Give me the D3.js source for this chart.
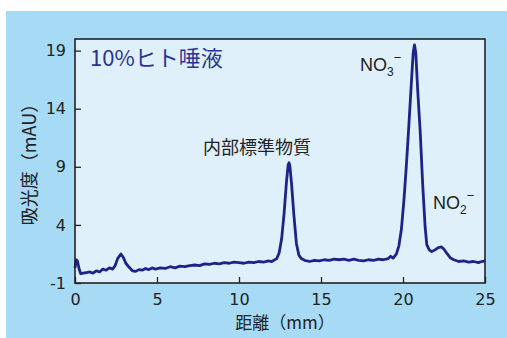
<!DOCTYPE html>
<html>
<head>
<meta charset="utf-8">
<script src="https://cdn.jsdelivr.net/npm/d3@7"></script>
<style>
  body { margin: 0; background: #fff; }
  text { font-family: "Noto Sans CJK JP", "Noto Sans", sans-serif; fill: #222; }
  .num { font-family: "DejaVu Sans", sans-serif; }
</style>
</head>
<body>
<div id="chart"></div>
<script>
// distance (mm) and absorbance (mAU)
const distance = [
  0.0, 0.08, 0.15, 0.25, 0.35, 0.5, 0.7, 0.9, 1.1, 1.3, 1.5, 1.7, 1.9, 2.1, 2.3, 2.45, 2.6, 2.8, 2.95,
  3.1, 3.3, 3.5, 3.7, 3.9, 4.1, 4.3, 4.5, 4.7, 4.9, 5.2, 5.5, 5.8, 6.1, 6.4, 6.7, 7.0, 7.3, 7.6, 7.9,
  8.2, 8.5, 8.8, 9.1, 9.4, 9.7, 10.0, 10.3, 10.6, 10.9, 11.2, 11.5, 11.8, 12.0, 12.3, 12.45, 12.6,
  12.75, 12.9, 13.0, 13.05, 13.1, 13.2, 13.35, 13.5, 13.65, 13.8, 14.0, 14.3, 14.6, 14.9, 15.2, 15.5,
  15.8, 16.1, 16.4, 16.7, 17.0, 17.3, 17.6, 17.9, 18.2, 18.5, 18.8, 19.1, 19.25, 19.4, 19.6, 19.75,
  19.9, 20.05, 20.2, 20.35, 20.5, 20.62, 20.7, 20.78, 20.9, 21.05, 21.2, 21.35, 21.45, 21.6, 21.75,
  21.95, 22.15, 22.35, 22.5, 22.7, 22.9, 23.1, 23.4, 23.7, 24.0, 24.3, 24.6, 24.8, 25.0
];
const absorbance = [
  0.3, 1.0, 0.9, 0.2, -0.2, -0.15, -0.1, -0.05, -0.15, 0.05, -0.05, 0.2, 0.1, 0.3, 0.2, 0.5, 1.1, 1.5, 1.2,
  0.7, 0.35, 0.05, 0.0, 0.15, 0.1, 0.25, 0.15, 0.3, 0.2, 0.3, 0.25, 0.4, 0.3, 0.45, 0.4, 0.5, 0.55, 0.5, 0.65,
  0.6, 0.7, 0.65, 0.75, 0.7, 0.8, 0.75, 0.7, 0.8, 0.75, 0.85, 0.8, 0.9, 0.85, 1.1, 1.6, 2.8,
  5.0, 7.8, 9.2, 9.35, 9.1, 7.6, 4.8, 2.4, 1.4, 1.1, 0.95, 0.85, 0.95, 0.9, 1.0, 0.95,
  1.05, 1.0, 1.05, 0.95, 1.05, 0.95, 0.9, 1.0, 0.95, 1.05, 1.0, 1.1, 1.3, 1.15, 1.5, 2.2,
  3.6, 6.0, 9.0, 12.4, 16.0, 18.8, 19.5, 18.8, 15.5, 12.0, 7.5, 3.8, 2.3, 1.85, 1.7,
  1.85, 2.05, 2.1, 1.9, 1.5, 1.15, 1.0, 0.85, 0.9, 0.8, 0.85, 0.75, 0.85, 0.9
];
const xTicks = [0, 5, 10, 15, 20, 25];
const yTicks = [-1, 4, 9, 14, 19];

const width = 507;
const height = 338;
const margin = { top: 39, right: 22, bottom: 55, left: 75 };
const innerW = width - margin.left - margin.right;
const innerH = height - margin.top - margin.bottom;

const svg = d3.select("#chart")
              .append("svg")
              .attr("width", width)
              .attr("height", height);

// backgrounds
svg.append("rect")
   .attr("x", 6).attr("y", 11)
   .attr("width", width - 6).attr("height", height - 11)
   .attr("fill", "#a6daf5");

const g = svg.append("g")
             .attr("transform", `translate(${margin.left}, ${margin.top})`);

g.append("rect")
 .attr("width", innerW).attr("height", innerH)
 .attr("fill", "#dff0fb");

// Scaling
const xScale = d3.scaleLinear().domain([0, 25]).range([0, innerW]);
const yScale = d3.scaleLinear().domain([-1, 20]).range([innerH, 0]);

// Axes (ticks pointing inward)
const xAxis = g.append("g")
               .attr("transform", `translate(0, ${innerH})`)
               .call(d3.axisBottom(xScale).tickValues(xTicks).tickFormat(d => d).tickSize(-6).tickPadding(11).tickSizeOuter(0));
const yAxis = g.append("g")
               .call(d3.axisLeft(yScale).tickValues(yTicks).tickFormat(d => d).tickSize(-6).tickPadding(9).tickSizeOuter(0));

[xAxis, yAxis].forEach(ax => {
  ax.select(".domain").remove();
  ax.selectAll("line").attr("stroke", "#222").attr("stroke-width", 1.3);
  ax.selectAll("text")
    .attr("class", "num")
    .style("font-size", "16px")
    .attr("fill", "#222");
});
xAxis.selectAll("text").attr("dy", "0.71em");

// Trace
const points = distance.map((d, i) => [d, absorbance[i]]);
const line = d3.line()
               .x(d => xScale(d[0]))
               .y(d => yScale(d[1]));

g.append("path")
 .datum(points)
 .attr("d", line)
 .attr("fill", "none")
 .attr("stroke", "#1f2388")
 .attr("stroke-width", 2.8)
 .attr("stroke-linejoin", "round");

// frame
g.append("rect")
 .attr("width", innerW).attr("height", innerH)
 .attr("fill", "none")
 .attr("stroke", "#222")
 .attr("stroke-width", 1.6);

// Labels
svg.append("text")
   .attr("x", 90).attr("y", 66)
   .style("font-size", "22px")
   .style("fill", "#2b3590")
   .text("10%ヒト唾液");

svg.append("text")
   .attr("x", 257).attr("y", 154)
   .attr("text-anchor", "middle")
   .style("font-size", "18px")
   .text("内部標準物質");

const no3 = svg.append("text").attr("x", 360).attr("y", 71).style("font-size", "18px");
no3.append("tspan").attr("font-family", "Liberation Sans").text("NO");
no3.append("tspan").attr("font-family", "Liberation Sans").attr("font-size", "12px").attr("dy", 5).text("3");
no3.append("tspan").attr("font-family", "Liberation Sans").attr("font-size", "13px").attr("dy", -14).text("−");

const no2 = svg.append("text").attr("x", 433).attr("y", 209).style("font-size", "18px");
no2.append("tspan").attr("font-family", "Liberation Sans").text("NO");
no2.append("tspan").attr("font-family", "Liberation Sans").attr("font-size", "12px").attr("dy", 5).text("2");
no2.append("tspan").attr("font-family", "Liberation Sans").attr("font-size", "13px").attr("dy", -14).text("−");

// Axis titles
svg.append("text")
   .attr("transform", "translate(36, 160) rotate(-90)")
   .attr("text-anchor", "middle")
   .style("font-size", "18px")
   .text("吸光度（mAU）");

svg.append("text")
   .attr("x", 285).attr("y", 329)
   .attr("text-anchor", "middle")
   .style("font-size", "17px")
   .text("距離（mm）");
</script>
</body>
</html>
